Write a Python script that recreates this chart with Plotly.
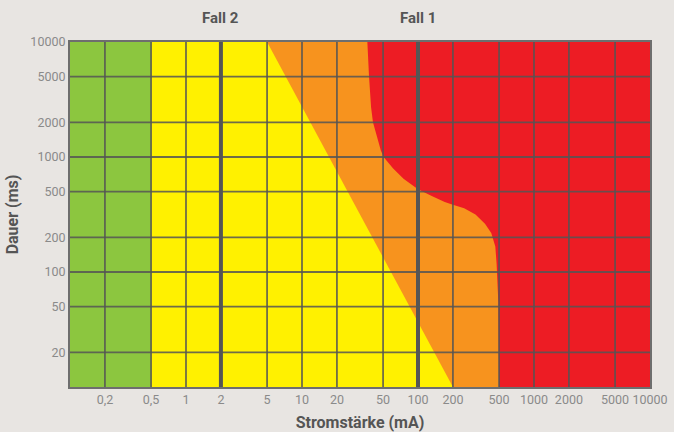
import numpy as np
import plotly.graph_objects as go

# ---- data ----
x_ticks = [0.2, 0.5, 1, 2, 5, 10, 20, 50, 100, 200, 500, 1000, 2000, 5000, 10000]
x_tick_labels = ["0,2", "0,5", "1", "2", "5", "10", "20", "50", "100", "200",
                 "500", "1000", "2000", "5000", "10000"]
y_ticks = [20, 50, 100, 200, 500, 1000, 2000, 5000, 10000]
y_tick_labels = ["20", "50", "100", "200", "500", "1000", "2000", "5000", "10000"]

x_min, x_max = 0.1, 10000
y_min, y_max = 10, 10000

# zone AC-1 / AC-2 limit (green / yellow)
limit_a = 0.5
# curve b (yellow / orange)
b_x = [5, 200]
b_y = [10000, 10]
# curve c (orange / red)
c_x = [36.6, 37.8, 38.5, 39.4, 40.9, 44.9, 47.9, 51.1, 60.8, 75, 99.3, 130, 170,
       203, 250, 313, 378, 428, 464, 476, 485, 493, 500]
c_y = [10000, 5080, 3705, 2710, 2010, 1400, 1135, 986, 798, 647, 526, 461, 407,
       383, 359, 317, 263, 218, 167, 118, 83, 54, 10]

case_x = [2, 100]
case_labels = ["Fall 2", "Fall 1"]

GREEN = "#8cc63f"
YELLOW = "#fff100"
ORANGE = "#f7931e"
RED = "#ed1c24"
BG = "#e8e5e2"
GRID = "rgba(85,85,85,0.85)"

fig = go.Figure()

def area(xs, ys, color):
    fig.add_trace(go.Scatter(x=xs, y=ys, mode="lines", fill="toself",
                             fillcolor=color, line=dict(width=0, color=color),
                             hoverinfo="skip", showlegend=False))

# red: whole field
area([x_min, x_max, x_max, x_min], [y_min, y_min, y_max, y_max], RED)
# orange: left of curve c
area([x_min] + c_x + [x_min], [y_max] + c_y + [y_min], ORANGE)
# yellow: left of curve b
area([x_min] + b_x + [x_min], [y_max] + b_y + [y_min], YELLOW)
# green: below limit a
area([x_min, limit_a, limit_a, x_min], [y_min, y_min, y_max, y_max], GREEN)

# grid drawn over the areas
gx, gy = [], []
for v in x_ticks:
    if v < x_max:
        gx += [v, v, None]
        gy += [y_min, y_max, None]
for v in y_ticks:
    if v < y_max:
        gx += [x_min, x_max, None]
        gy += [v, v, None]
fig.add_trace(go.Scatter(x=gx, y=gy, mode="lines",
                         line=dict(color=GRID, width=1.8),
                         hoverinfo="skip", showlegend=False))

# case lines
cx, cy = [], []
for v in case_x:
    cx += [v, v, None]
    cy += [y_min, y_max, None]
fig.add_trace(go.Scatter(x=cx, y=cy, mode="lines",
                         line=dict(color="#555555", width=4),
                         hoverinfo="skip", showlegend=False))

for v, t in zip(case_x, case_labels):
    fig.add_annotation(x=np.log10(v), y=1, xref="x", yref="paper",
                       text="<b>%s</b>" % t, showarrow=False,
                       yanchor="middle", yshift=24,
                       font=dict(family="Roboto", size=15, color="#555555"))

fig.update_xaxes(type="log", range=[np.log10(x_min), np.log10(x_max)],
                 tickvals=x_ticks, ticktext=x_tick_labels, showgrid=False,
                 zeroline=False, showline=True, mirror=True, linecolor="#6e6e6e",
                 linewidth=2, ticks="", layer="above traces", tickangle=0,
                 automargin=False,
                 tickfont=dict(family="Roboto", size=12.5, color="#8a8a8a"),
                 title=dict(text="<b>Stromstärke (mA)</b>", standoff=14,
                            font=dict(family="Roboto", size=16, color="#555555")))
fig.update_yaxes(type="log", range=[np.log10(y_min), np.log10(y_max)],
                 tickvals=y_ticks, ticktext=y_tick_labels, showgrid=False,
                 zeroline=False, showline=True, mirror=True, linecolor="#6e6e6e",
                 linewidth=2, ticks="", layer="above traces", automargin=False,
                 tickfont=dict(family="Roboto", size=12.5, color="#8a8a8a"),
                 title=dict(text="<b>Dauer (ms)</b>", standoff=8,
                            font=dict(family="Roboto", size=16, color="#555555")))

fig.update_layout(width=674, height=432,
                  margin=dict(l=70, r=24, t=42, b=45),
                  paper_bgcolor=BG, plot_bgcolor=BG,
                  showlegend=False)

fig.write_html("out.html", config={"displayModeBar": False},
               post_script="document.body.style.margin='0';"
                           "document.body.style.background='#e8e5e2';")
